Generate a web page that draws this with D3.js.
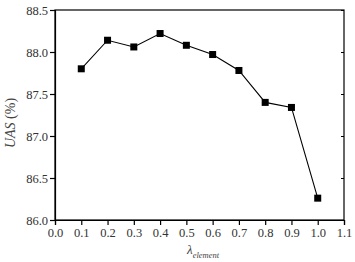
<!DOCTYPE html>
<html><head><meta charset="utf-8">
<script src="https://cdn.jsdelivr.net/npm/d3@7"></script>
<style>body{margin:0;background:#fff}svg{display:block}text{font-family:"Liberation Serif","Times New Roman",serif}</style>
</head><body>
<svg id="c" width="355" height="262"></svg>
<script>
const lambdas = [0.1,0.2,0.3,0.4,0.5,0.6,0.7,0.8,0.9,1.0];
const uas = [87.80,88.14,88.06,88.22,88.08,87.97,87.78,87.40,87.34,86.26];
const xTicks = [0.0,0.1,0.2,0.3,0.4,0.5,0.6,0.7,0.8,0.9,1.0,1.1];
const yTicks = [86.0,86.5,87.0,87.5,88.0,88.5];

const svg = d3.select("#c");
const L=55, R=344, T=10, B=220;
const x = d3.scaleLinear().domain([0,1.1]).range([L,R]);
const y = d3.scaleLinear().domain([86,88.5]).range([B,T]);

svg.append("rect").attr("x",L).attr("y",T).attr("width",R-L).attr("height",B-T)
  .attr("fill","none").attr("stroke","#000").attr("stroke-width",1.2);

const xa = svg.append("g").attr("transform",`translate(0,${B})`)
  .call(d3.axisBottom(x).tickValues(xTicks).tickFormat(d3.format(".1f")).tickSize(5).tickPadding(3));
const ya = svg.append("g").attr("transform",`translate(${L},0)`)
  .call(d3.axisLeft(y).tickValues(yTicks).tickFormat(d3.format(".1f")).tickSize(5).tickPadding(2));
svg.append("g").attr("transform",`translate(${R},0)`)
  .call(d3.axisLeft(y).tickValues(yTicks).tickFormat("").tickSize(3))
  .select(".domain").remove();
[xa,ya].forEach(a=>{
  a.select(".domain").attr("stroke-width",1.2);
  a.selectAll("line").attr("stroke-width",1.2);
  a.selectAll("text").attr("font-size",12.5).attr("fill","#333").style("font-family","Liberation Serif");
});

const line = d3.line().x((d,i)=>x(lambdas[i])).y(d=>y(d));
svg.append("path").datum(uas).attr("d",line).attr("fill","none").attr("stroke","#000").attr("stroke-width",1.1);
svg.selectAll("rect.pt").data(uas).enter().append("rect").attr("class","pt")
  .attr("x",(d,i)=>x(lambdas[i])-3.5).attr("y",d=>y(d)-3.5).attr("width",7).attr("height",7).attr("fill","#000");

svg.append("text").attr("transform",`translate(15,123) rotate(-90)`)
  .attr("text-anchor","middle").attr("font-size",14).attr("fill","#444")
  .html('<tspan font-style="italic">UAS</tspan> (%)');
const xt = svg.append("text").attr("x",187).attr("y",254).attr("font-size",13).attr("fill","#444").attr("font-style","italic");
xt.append("tspan").text("λ");
xt.append("tspan").attr("font-size",8.5).attr("dy",4).text("element");
</script>
</body></html>
